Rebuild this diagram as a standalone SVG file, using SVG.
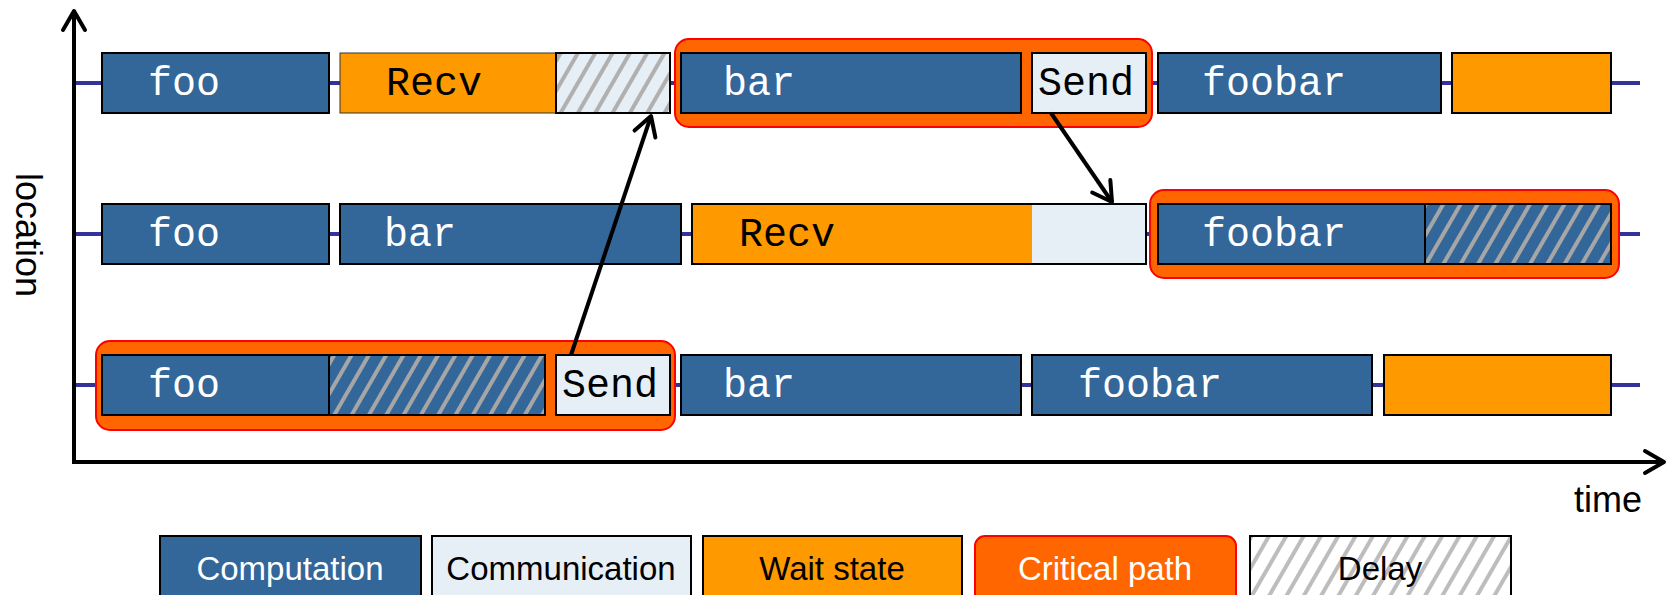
<svg xmlns="http://www.w3.org/2000/svg" width="1673" height="595" viewBox="0 0 1673 595">
<style>
.comp{fill:#336699;stroke:#000;stroke-width:2}
.comm{fill:#E6EEF6;stroke:#000;stroke-width:2}
.wait{fill:#FF9900;stroke:#000;stroke-width:2}
.waitThin{fill:#FF9900;stroke:#333;stroke-width:1}
.crit{fill:#FF6600;stroke:#FF0000;stroke-width:2}
.delayB{fill:url(#hatchBlue);stroke:#000;stroke-width:2}
.delayL{fill:url(#hatchLight);stroke:#000;stroke-width:2}
.delayW{fill:url(#hatchWhite);stroke:#000;stroke-width:2}
.mono{font-family:'Liberation Mono','Courier New',monospace;font-size:40px}
.w{fill:#fff}
.k{fill:#000}
.leg{font-family:'Liberation Sans',Arial,sans-serif;font-size:33px;text-anchor:middle}
.ax{font-family:'Liberation Sans',Arial,sans-serif;font-size:36px;fill:#000}
.tl{stroke:#333399;stroke-width:4}
.arr{stroke:#000;stroke-width:4;fill:none;marker-end:url(#arrow)}
</style>
<defs>
<pattern id="hatchBlue" width="15" height="15" patternUnits="userSpaceOnUse" patternTransform="rotate(30)">
<rect width="15" height="15" fill="#336699"/><rect width="4" height="15" fill="#A6A6A6"/>
</pattern>
<pattern id="hatchLight" width="15" height="15" patternUnits="userSpaceOnUse" patternTransform="rotate(30)">
<rect width="15" height="15" fill="#E6EEF6"/><rect width="4" height="15" fill="#B0B0B0"/>
</pattern>
<pattern id="hatchWhite" width="15" height="15" patternUnits="userSpaceOnUse" patternTransform="rotate(30)">
<rect width="15" height="15" fill="#FFFFFF"/><rect width="4" height="15" fill="#BDBDBD"/>
</pattern>
<marker id="arrow" markerUnits="userSpaceOnUse" markerWidth="40" markerHeight="40" viewBox="-25 -20 30 40" refX="0" refY="0" orient="auto" overflow="visible">
<path d="M-19,-11 L0,0 L-19,11" fill="none" stroke="#000" stroke-width="4" stroke-linejoin="round" stroke-linecap="round"/>
</marker>
</defs>
<rect width="1673" height="595" fill="#fff"/>

<g id="axes">
<line class="tl" x1="74" y1="83" x2="1640" y2="83"/>
<line class="tl" x1="74" y1="234" x2="1640" y2="234"/>
<line class="tl" x1="74" y1="385" x2="1640" y2="385"/>
<line class="arr" x1="74" y1="464" x2="74" y2="11"/>
<line class="arr" x1="72" y1="462" x2="1664" y2="462"/>
<text class="ax" x="1574" y="512">time</text>
<text class="ax" transform="translate(16,235) rotate(90)" text-anchor="middle">location</text>
</g>

<g id="r1-crit"><rect class="crit" x="675" y="39" width="477" height="88" rx="14"/></g>
<g id="r2-crit"><rect class="crit" x="1150" y="190" width="469" height="88" rx="14"/></g>
<g id="r3-crit"><rect class="crit" x="96" y="341" width="579" height="89" rx="14"/></g>

<g id="r1-foo"><rect class="comp" x="102" y="53" width="227" height="60"/><text class="mono w" x="148" y="95">foo</text></g>
<g id="r1-recv"><rect class="waitThin" x="340" y="53" width="216" height="60"/><text class="mono k" x="386" y="95">Recv</text></g>
<g id="r1-delay"><rect class="delayL" x="556" y="53" width="114" height="60"/></g>
<g id="r1-bar"><rect class="comp" x="681" y="53" width="340" height="60"/><text class="mono w" x="723" y="95">bar</text></g>
<g id="r1-send"><rect class="comm" x="1032" y="53" width="114" height="60"/><text class="mono k" x="1038" y="95">Send</text></g>
<g id="r1-foobar"><rect class="comp" x="1158" y="53" width="283" height="60"/><text class="mono w" x="1202" y="95">foobar</text></g>
<g id="r1-wait"><rect class="wait" x="1452" y="53" width="159" height="60"/></g>

<g id="r2-foo"><rect class="comp" x="102" y="204" width="227" height="60"/><text class="mono w" x="148" y="246">foo</text></g>
<g id="r2-bar"><rect class="comp" x="340" y="204" width="341" height="60"/><text class="mono w" x="384" y="246">bar</text></g>
<g id="r2-recv"><rect x="692" y="204" width="340" height="60" fill="#FF9900"/><rect x="1032" y="204" width="114" height="60" fill="#E6EEF6"/><rect x="692" y="204" width="454" height="60" fill="none" stroke="#000" stroke-width="2"/><text class="mono k" x="739" y="246">Recv</text></g>
<g id="r2-foobar"><rect class="comp" x="1158" y="204" width="267" height="60"/><text class="mono w" x="1202" y="246">foobar</text></g>
<g id="r2-delay"><rect class="delayB" x="1425" y="204" width="186" height="60"/></g>

<g id="r3-foo"><rect class="comp" x="102" y="355" width="227" height="60"/><text class="mono w" x="148" y="397">foo</text></g>
<g id="r3-delay"><rect class="delayB" x="329" y="355" width="216" height="60"/></g>
<g id="r3-send"><rect class="comm" x="556" y="355" width="114" height="60"/><text class="mono k" x="562" y="397">Send</text></g>
<g id="r3-bar"><rect class="comp" x="681" y="355" width="340" height="60"/><text class="mono w" x="723" y="397">bar</text></g>
<g id="r3-foobar"><rect class="comp" x="1032" y="355" width="340" height="60"/><text class="mono w" x="1078" y="397">foobar</text></g>
<g id="r3-wait"><rect class="wait" x="1384" y="355" width="227" height="60"/></g>

<g id="connectors">
<line class="arr" x1="571" y1="355" x2="651" y2="116"/>
<line class="arr" x1="1051" y1="113" x2="1112" y2="202"/>
</g>

<g id="legend-computation"><rect class="comp" x="160" y="536" width="261" height="62"/><text class="leg w" x="290" y="580">Computation</text></g>
<g id="legend-communication"><rect class="comm" x="432" y="536" width="259" height="62"/><text class="leg k" x="561" y="580">Communication</text></g>
<g id="legend-wait"><rect class="wait" x="703" y="536" width="259" height="62"/><text class="leg k" x="832" y="580">Wait state</text></g>
<g id="legend-critical"><rect class="crit" x="975" y="536" width="261" height="70" rx="10"/><text class="leg w" x="1105" y="580">Critical path</text></g>
<g id="legend-delay"><rect class="delayW" x="1250" y="536" width="261" height="62"/><text class="leg k" x="1380" y="580">Delay</text></g>
</svg>
